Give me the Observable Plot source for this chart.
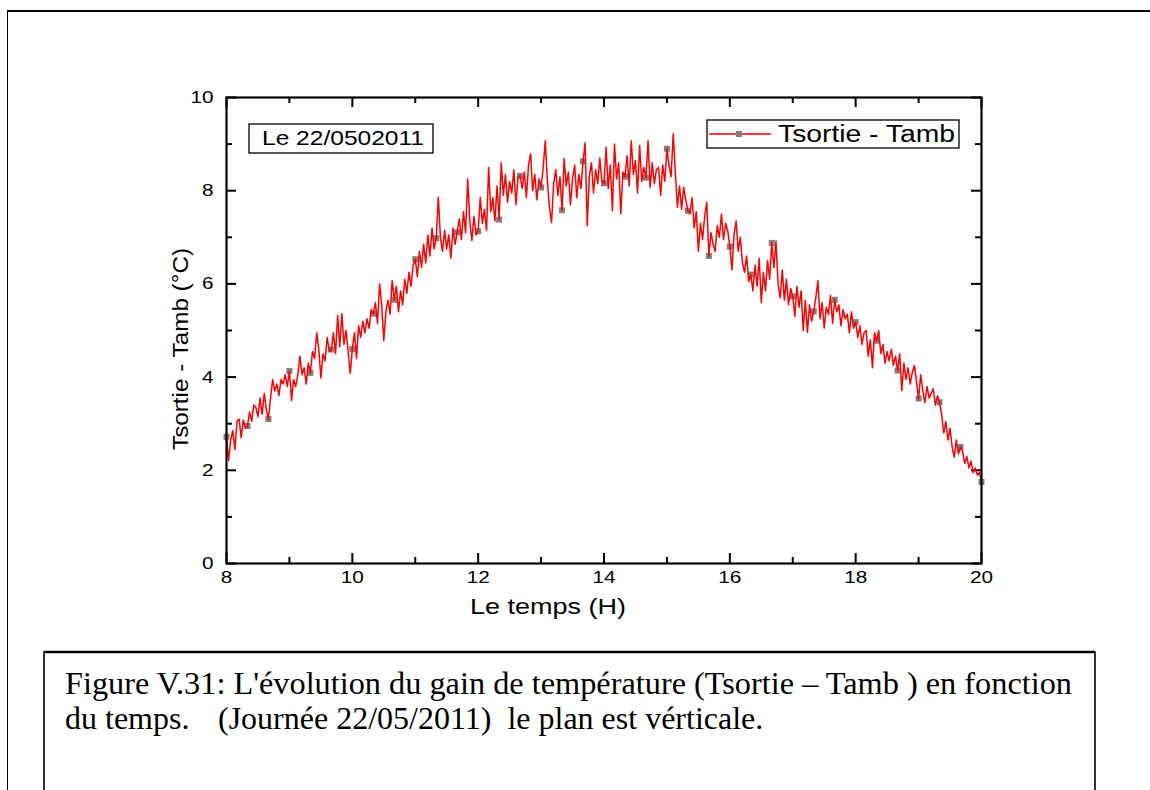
<!DOCTYPE html>
<html><head><meta charset="utf-8">
<script src="https://cdn.jsdelivr.net/npm/d3@7"></script>
<script src="https://cdn.jsdelivr.net/npm/@observablehq/plot@0.6"></script>
<style>
body{margin:0;background:#fff;}
#page{position:relative;width:1150px;height:790px;overflow:hidden;background:#fff;}
#border{position:absolute;left:7px;top:10px;width:1300px;height:1000px;border-left:1.5px solid #000;border-top:2px solid #000;}
#chart{position:absolute;left:0;top:0;}
#overlay{position:absolute;left:0;top:0;pointer-events:none;}
</style></head><body>
<div id="page"><div id="border"></div><div id="chart"></div>
<svg id="overlay" width="1150" height="790" xmlns="http://www.w3.org/2000/svg"></svg></div>
<script>
// ---- data (Tsortie - Tamb, °C), sampled every 2 minutes from 8:00 to 20:00 ----
const startHour = 8;
const stepMinutes = 2;
const h08 = [2.72,2.21,2.65,2.85,2.45,3.05,3.10,2.70,3.08,2.90, 2.95,3.25,3.05,3.40,3.35,3.15,3.55,3.20,3.65,3.30, 3.10,3.55,3.95,3.70,3.85,3.60,3.95,3.85,4.05,3.80];
const h09 = [4.13,3.50,3.95,3.80,4.05,4.45,4.05,4.20,3.85,4.30, 4.09,4.55,4.40,4.95,4.60,3.98,4.50,4.35,4.85,4.55, 4.59,4.95,4.50,5.32,4.65,5.36,4.70,5.00,4.55,4.08];
const h10 = [4.60,4.95,4.40,5.10,4.85,5.20,4.95,5.25,5.05,5.45, 5.36,5.60,5.15,6.00,5.55,4.78,5.40,5.65,5.35,6.07, 5.66,5.95,5.40,5.85,5.55,6.10,5.80,6.25,5.95,6.40];
const h11 = [6.53,6.15,6.70,6.35,6.85,6.45,7.05,6.60,7.20,6.75, 6.98,7.86,7.00,6.70,7.15,6.75,7.05,6.55,7.20,6.85, 7.11,7.40,6.95,7.55,7.10,8.25,7.35,6.93,7.45,7.05];
const h12 = [7.13,7.86,7.30,7.60,7.15,8.50,7.55,7.85,7.35,8.10, 7.38,8.60,7.90,8.35,7.75,8.20,7.95,8.45,7.70,8.30, 8.32,8.05,8.40,7.85,8.55,8.79,8.00,8.35,7.80,8.25];
const h13 = [8.07,8.50,9.07,8.20,7.64,7.32,8.15,8.45,7.90,8.30, 7.58,8.69,8.10,8.40,7.70,8.25,8.55,7.85,8.35,8.05, 8.63,9.03,7.25,8.30,8.60,7.95,8.45,8.15,8.70,8.20];
const h14 = [8.16,8.93,8.05,8.55,7.57,9.00,8.25,8.60,7.50,8.40, 8.30,8.75,8.10,9.07,8.35,8.65,7.95,8.97,8.20,8.50, 8.28,9.07,8.07,8.60,8.15,8.45,8.50,7.90,8.55,8.20];
const h15 = [8.90,8.55,8.30,9.22,8.40,7.64,8.10,7.60,8.07,7.80, 7.57,7.50,7.85,7.20,7.55,6.70,7.30,6.95,7.45,7.75, 6.60,7.10,6.85,6.70,7.25,7.00,7.50,6.95,7.30,7.14];
const h16 = [6.80,6.30,7.05,7.35,6.70,7.00,6.45,6.25,6.60,6.05, 6.20,5.85,6.40,5.95,6.55,5.60,6.25,5.85,6.50,6.10, 6.88,6.35,6.92,6.00,5.70,6.30,5.65,6.10,5.55,5.90];
const h17 = [5.73,5.30,5.95,5.50,5.85,5.00,5.65,4.96,5.55,5.20, 5.41,5.70,6.07,5.25,5.60,5.05,5.50,5.35,5.75,5.15, 5.66,5.40,5.55,5.10,5.45,5.25,5.35,4.95,5.40,5.05];
const h18 = [5.18,4.85,5.10,4.70,4.95,5.00,4.45,4.80,4.20,4.95, 4.78,5.00,4.50,4.70,4.30,4.55,4.35,4.60,4.25,4.45, 4.14,4.50,3.71,4.30,3.95,4.20,3.85,4.10,4.25,3.90];
const h19 = [3.54,4.05,3.70,3.45,3.80,3.55,3.65,3.75,3.40,3.60, 3.46,3.20,2.80,3.05,2.65,2.90,2.50,2.28,2.65,2.35, 2.50,2.40,2.15,2.30,2.05,2.20,1.95,2.05,1.90,1.95];
const h20 = [1.75];
const markerEvery = 10;

const xMajor = [8, 10, 12, 14, 16, 18, 20];
const xMinor = [9, 11, 13, 15, 17, 19];
const yMajor = [0, 2, 4, 6, 8, 10];
const yMinor = [1, 3, 5, 7, 9];

const seriesName = "Tsortie - Tamb";
const xLabel = "Le temps (H)";
const yLabel = "Tsortie - Tamb (°C)";
const noteText = "Le 22/0502011";
const captionLine1 = "Figure V.31: L'évolution du gain de température (Tsortie – Tamb ) en fonction";
const captionLine2a = "du temps.";
const captionLine2b = "(Journée 22/05/2011)  le plan est vérticale.";

// ---- build table ----
const values = [...h08, ...h09, ...h10, ...h11, ...h12, ...h13, ...h14, ...h15, ...h16, ...h17, ...h18, ...h19, ...h20];
const table = values.map((v, i) => ({t: startHour + i * stepMinutes / 60, v}));
const markers = table.filter((d, i) => i % markerEvery === 0);

const W = 1150, H = 640, mL = 226, mR = 169, mT = 97, mB = 77;
const fW = W - mL - mR, fH = H - mT - mB;
const majorLen = 10, minorLen = 6;

const chart = Plot.plot({
  width: W, height: H,
  marginLeft: mL, marginRight: mR, marginTop: mT, marginBottom: mB,
  x: {domain: [8, 20]},
  y: {domain: [0, 10]},
  style: {fontFamily: "'Liberation Sans', Arial, sans-serif", fontSize: "17px", color: "#000", background: "transparent"},
  marks: [
    Plot.axisX(xMajor, {tickSize: 0, tickPadding: 7, label: null, fontSize: 17}),
    Plot.axisY(yMajor, {tickSize: 0, tickPadding: 13, label: null, fontSize: 17}),
    // inward ticks, bottom
    Plot.ruleX(xMajor, {insetTop: fH - majorLen, stroke: "#000", strokeWidth: 2}),
    Plot.ruleX(xMinor, {insetTop: fH - minorLen, stroke: "#000", strokeWidth: 2}),
    // top
    Plot.ruleX(xMajor, {insetBottom: fH - majorLen, stroke: "#000", strokeWidth: 2}),
    Plot.ruleX(xMinor, {insetBottom: fH - minorLen, stroke: "#000", strokeWidth: 2}),
    // left
    Plot.ruleY(yMajor, {insetRight: fW - majorLen, stroke: "#000", strokeWidth: 2}),
    Plot.ruleY(yMinor, {insetRight: fW - minorLen, stroke: "#000", strokeWidth: 2}),
    // right
    Plot.ruleY(yMajor, {insetLeft: fW - majorLen, stroke: "#000", strokeWidth: 2}),
    Plot.ruleY(yMinor, {insetLeft: fW - minorLen, stroke: "#000", strokeWidth: 2}),
    Plot.dot(markers, {x: "t", y: "v", symbol: "square", r: 3.4, fill: "#808080", stroke: "none"}),
    Plot.line(table, {x: "t", y: "v", stroke: "#ff0000", strokeWidth: 1.5}),
    Plot.frame({stroke: "#000", strokeWidth: 2.2})
  ]
});
document.getElementById("chart").appendChild(chart);

// widen tick labels slightly (the original figure is stretched horizontally)
d3.select(chart).selectAll("g[aria-label$='tick label'] text").each(function() {
  const len = this.getComputedTextLength();
  if (len > 0) {
    this.setAttribute("textLength", len * 1.22);
    this.setAttribute("lengthAdjust", "spacingAndGlyphs");
  }
});

// ---- overlay: note box, legend, axis titles, caption ----
const ov = d3.select("#overlay");
const sans = "'Liberation Sans', Arial, sans-serif";
const serif = "'Liberation Serif', 'Times New Roman', serif";

// note box
ov.append("rect").attr("x", 249).attr("y", 124).attr("width", 184).attr("height", 29)
  .attr("fill", "#fff").attr("stroke", "#000").attr("stroke-width", 1.3);
ov.append("text").attr("x", 262).attr("y", 145).attr("font-family", sans).attr("font-size", 21)
  .attr("textLength", 162).attr("lengthAdjust", "spacingAndGlyphs").text(noteText);

// legend
ov.append("rect").attr("x", 707).attr("y", 120).attr("width", 252).attr("height", 28)
  .attr("fill", "#fff").attr("stroke", "#000").attr("stroke-width", 1.3);
ov.append("line").attr("x1", 709).attr("x2", 771).attr("y1", 134).attr("y2", 134)
  .attr("stroke", "#ff0000").attr("stroke-width", 1.5);
ov.append("rect").attr("x", 736).attr("y", 131).attr("width", 6).attr("height", 6).attr("fill", "#808080");
ov.append("text").attr("x", 778).attr("y", 142).attr("font-family", sans).attr("font-size", 23)
  .attr("textLength", 177).attr("lengthAdjust", "spacingAndGlyphs").text(seriesName);

// axis titles
ov.append("text").attr("x", 548).attr("y", 614).attr("text-anchor", "middle")
  .attr("font-family", sans).attr("font-size", 22)
  .attr("textLength", 156).attr("lengthAdjust", "spacingAndGlyphs").text(xLabel);
ov.append("text").attr("transform", "translate(188,349) rotate(-90)").attr("text-anchor", "middle")
  .attr("font-family", sans).attr("font-size", 22)
  .attr("textLength", 202).attr("lengthAdjust", "spacingAndGlyphs").text(yLabel);

// caption
ov.append("rect").attr("x", 44).attr("y", 652).attr("width", 1051).attr("height", 200)
  .attr("fill", "none").attr("stroke", "#000").attr("stroke-width", 1.6);
ov.append("line").attr("x1", 44).attr("x2", 1095).attr("y1", 652).attr("y2", 652)
  .attr("stroke", "#000").attr("stroke-width", 2.6);
ov.append("text").attr("x", 65).attr("y", 694).attr("font-family", serif).attr("font-size", 32)
  .attr("textLength", 1007).attr("lengthAdjust", "spacingAndGlyphs").text(captionLine1);
ov.append("text").attr("x", 65).attr("y", 729).attr("font-family", serif).attr("font-size", 32)
  .text(captionLine2a);
ov.append("text").attr("x", 218).attr("y", 729).attr("font-family", serif).attr("font-size", 32)
  .attr("xml:space", "preserve").style("white-space", "pre").text(captionLine2b);
</script>
</body></html>
